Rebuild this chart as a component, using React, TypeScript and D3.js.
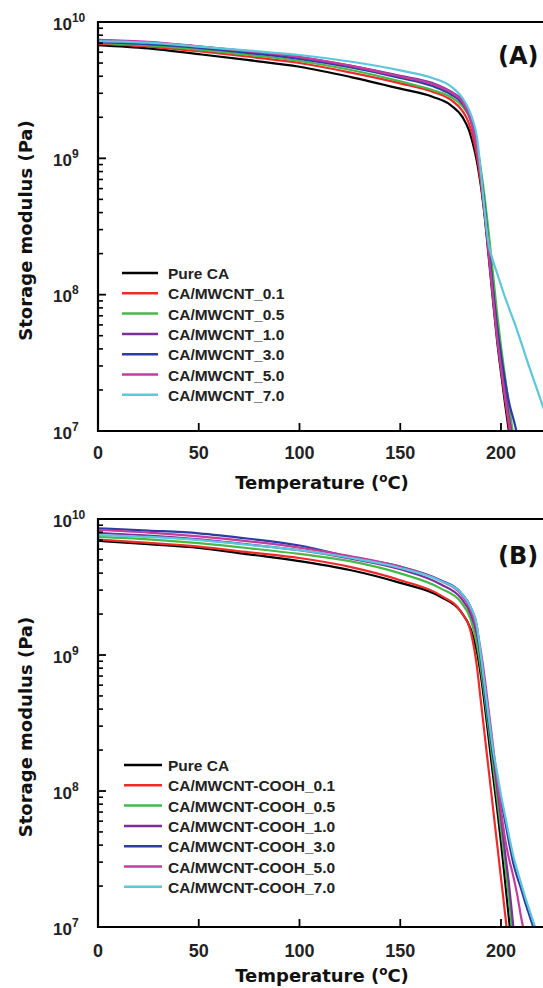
import React from 'react';
import * as d3 from 'd3';

// ---------- DATA (log10 of storage modulus in Pa) ----------
const TEMP_A = [0, 25, 50, 75, 100, 125, 150, 166, 175, 181, 184, 186, 188, 190, 192, 194, 196, 198, 200, 202, 204, 207, 210, 214, 218, 222];
const A_pureCA = [9.831, 9.806, 9.764, 9.72, 9.672, 9.598, 9.511, 9.452, 9.391, 9.30, 9.21, 9.11, 8.98, 8.80, 8.56, 8.26, 7.96, 7.67, 7.43, 7.20, 6.99, 6.70, 6.44, 6.1, 5.8, 5.5];
const A_01 = [9.839, 9.82, 9.786, 9.745, 9.699, 9.63, 9.55, 9.489, 9.43, 9.345, 9.26, 9.16, 9.02, 8.82, 8.58, 8.29, 7.99, 7.70, 7.46, 7.24, 7.03, 6.75, 6.49, 6.1, 5.8, 5.5];
const A_05 = [9.846, 9.828, 9.797, 9.758, 9.714, 9.65, 9.565, 9.501, 9.45, 9.38, 9.31, 9.23, 9.10, 8.92, 8.70, 8.44, 8.16, 7.87, 7.62, 7.40, 7.18, 6.88, 6.60, 6.2, 5.9, 5.6];
const A_10 = [9.868, 9.85, 9.82, 9.785, 9.743, 9.68, 9.605, 9.552, 9.49, 9.42, 9.33, 9.24, 9.09, 8.88, 8.61, 8.31, 8.02, 7.73, 7.50, 7.29, 7.10, 6.84, 6.60, 6.25, 5.95, 5.65];
const A_30 = [9.853, 9.838, 9.81, 9.772, 9.729, 9.668, 9.59, 9.53, 9.47, 9.40, 9.32, 9.23, 9.09, 8.89, 8.63, 8.34, 8.05, 7.78, 7.56, 7.37, 7.21, 7.04, 6.82, 6.45, 6.1, 5.8];
const A_50 = [9.870, 9.855, 9.822, 9.785, 9.743, 9.68, 9.6, 9.545, 9.485, 9.41, 9.32, 9.22, 9.07, 8.86, 8.59, 8.29, 7.99, 7.70, 7.47, 7.25, 7.06, 6.80, 6.56, 6.2, 5.9, 5.6];
const A_70 = [9.86, 9.848, 9.82, 9.79, 9.758, 9.71, 9.645, 9.589, 9.53, 9.44, 9.36, 9.28, 9.16, 8.90, 8.60, 8.36, 8.25, 8.16, 8.07, 7.98, 7.90, 7.78, 7.65, 7.47, 7.3, 7.13];

const TEMP_B = [0, 25, 50, 75, 100, 125, 150, 170, 180, 185, 188, 190, 192, 194, 196, 198, 200, 202, 204, 206, 208, 210, 212, 214, 216, 218, 222];
const B_pureCA = [9.840, 9.815, 9.788, 9.74, 9.69, 9.625, 9.53, 9.428, 9.32, 9.19, 9.03, 8.85, 8.62, 8.37, 8.12, 7.88, 7.62, 7.34, 7.05, 6.78, 6.52, 6.3, 6.1, 5.9, 5.7, 5.5, 5.1];
const B_01 = [9.848, 9.825, 9.797, 9.755, 9.713, 9.648, 9.55, 9.438, 9.32, 9.17, 8.92, 8.66, 8.40, 8.14, 7.88, 7.62, 7.36, 7.10, 6.84, 6.6, 6.36, 6.15, 5.95, 5.75, 5.55, 5.35, 5.0];
const B_05 = [9.868, 9.85, 9.822, 9.785, 9.743, 9.69, 9.6, 9.49, 9.39, 9.26, 9.08, 8.90, 8.68, 8.44, 8.20, 7.96, 7.72, 7.47, 7.2, 6.92, 6.65, 6.4, 6.2, 6.0, 5.8, 5.6, 5.2];
const B_10 = [9.897, 9.878, 9.85, 9.812, 9.77, 9.71, 9.63, 9.52, 9.42, 9.30, 9.15, 8.98, 8.76, 8.52, 8.28, 8.04, 7.80, 7.55, 7.31, 7.02, 6.75, 6.5, 6.3, 6.1, 5.9, 5.7, 5.3];
const B_30 = [9.932, 9.915, 9.895, 9.855, 9.805, 9.722, 9.65, 9.55, 9.46, 9.35, 9.21, 8.97, 8.72, 8.49, 8.27, 8.10, 7.93, 7.78, 7.62, 7.475, 7.37, 7.28, 7.18, 7.09, 7.0, 6.92, 6.77];
const B_50 = [9.919, 9.9, 9.872, 9.835, 9.79, 9.728, 9.648, 9.545, 9.45, 9.33, 9.19, 9.03, 8.82, 8.58, 8.34, 8.09, 7.86, 7.65, 7.50, 7.38, 7.24, 7.07, 6.93, 6.8, 6.67, 6.55, 6.3];
const B_70 = [9.882, 9.868, 9.845, 9.81, 9.77, 9.715, 9.64, 9.545, 9.46, 9.35, 9.22, 9.0, 8.76, 8.53, 8.31, 8.14, 7.97, 7.82, 7.67, 7.53, 7.42, 7.32, 7.22, 7.13, 7.04, 6.96, 6.8];

const LABELS_A = ['Pure CA', 'CA/MWCNT_0.1', 'CA/MWCNT_0.5', 'CA/MWCNT_1.0', 'CA/MWCNT_3.0', 'CA/MWCNT_5.0', 'CA/MWCNT_7.0'];
const LABELS_B = ['Pure CA', 'CA/MWCNT-COOH_0.1', 'CA/MWCNT-COOH_0.5', 'CA/MWCNT-COOH_1.0', 'CA/MWCNT-COOH_3.0', 'CA/MWCNT-COOH_5.0', 'CA/MWCNT-COOH_7.0'];
const COLORS = ['#000000', '#ee2a2a', '#46b946', '#7b2f9c', '#2c3ca2', '#c43c9f', '#5cc7db'];
const X_TICKS = [0, 50, 100, 150, 200];
const Y_DECADES = [7, 8, 9, 10];

const SERIES_A = [A_pureCA, A_01, A_05, A_10, A_30, A_50, A_70];
const SERIES_B = [B_pureCA, B_01, B_05, B_10, B_30, B_50, B_70];

const W = 543;
const H = 988;
const LEFT = 98;
const RIGHT = 543;
const X200 = 501;

type PanelProps = {
  top: number;
  bottom: number;
  temps: number[];
  series: number[][];
  labels: string[];
  tag: string;
  tagY: number;
  legendX1: number;
  legendX2: number;
  legendY0: number;
  tickLabelY: number;
  titleY: number;
  id: string;
};

function Panel(p: PanelProps) {
  const x = d3.scaleLinear().domain([0, 200]).range([LEFT, X200]);
  const y = d3.scaleLog().domain([1e7, 1e10]).range([p.bottom, p.top]);
  const line = d3
    .line<[number, number]>()
    .x((d) => x(d[0]))
    .y((d) => y(Math.pow(10, d[1])))
    .curve(d3.curveMonotoneX);
  const minor: number[] = [];
  for (let d = 7; d < 10; d++) for (let k = 2; k <= 9; k++) minor.push(k * Math.pow(10, d));
  const font = "'Liberation Sans', Arial, sans-serif";
  const font2 = "'DejaVu Sans', Verdana, sans-serif";
  return (
    <g>
      <defs>
        <clipPath id={p.id}>
          <rect x={LEFT} y={p.top} width={RIGHT - LEFT + 5} height={p.bottom - p.top} />
        </clipPath>
      </defs>
      <g clipPath={`url(#${p.id})`}>
        {p.series.map((s, i) => (
          <path
            key={i}
            d={line(p.temps.map((t, j) => [t, s[j]] as [number, number])) || ''}
            fill="none"
            stroke={COLORS[i]}
            strokeWidth={2.2}
          />
        ))}
      </g>
      {/* frame */}
      <line x1={LEFT} x2={RIGHT + 2} y1={p.top} y2={p.top} stroke="#000" strokeWidth={2.2} />
      <line x1={LEFT} x2={LEFT} y1={p.top - 1} y2={p.bottom + 1} stroke="#000" strokeWidth={2.2} />
      <line x1={LEFT - 1} x2={RIGHT + 2} y1={p.bottom} y2={p.bottom} stroke="#000" strokeWidth={2.2} />
      {/* y minor ticks */}
      {minor.map((v, i) => (
        <line key={i} x1={LEFT} x2={LEFT + 5} y1={y(v)} y2={y(v)} stroke="#000" strokeWidth={1.6} />
      ))}
      {Y_DECADES.map((d) => (
        <g key={d}>
          <line x1={LEFT} x2={LEFT + 8} y1={y(Math.pow(10, d))} y2={y(Math.pow(10, d))} stroke="#000" strokeWidth={1.8} />
          <text x={53} y={y(Math.pow(10, d)) + 7.5} fontFamily={font} fontWeight="bold" fontSize={17} fill="#222">
            10
            <tspan fontSize={12} dy={-8}>{d}</tspan>
          </text>
        </g>
      ))}
      {/* x ticks */}
      {X_TICKS.map((t) => (
        <g key={t}>
          {t > 0 && <line x1={x(t)} x2={x(t)} y1={p.bottom} y2={p.bottom - 8} stroke="#000" strokeWidth={1.8} />}
          <text x={x(t)} y={p.tickLabelY} textAnchor="middle" fontFamily={font} fontWeight="bold" fontSize={18} fill="#222">
            {t}
          </text>
        </g>
      ))}
      <text x={322} y={p.titleY} textAnchor="middle" fontFamily={font2} fontWeight="bold" fontSize={18} fill="#111">
        Temperature (<tspan fontSize={12} dy={-7}>o</tspan>
        <tspan dy={7}>C)</tspan>
      </text>
      <text
        transform={`translate(32, ${(p.top + p.bottom) / 2 + 4}) rotate(-90)`}
        textAnchor="middle"
        fontFamily={font2}
        fontWeight="bold"
        fontSize={18}
        fill="#111"
      >
        Storage modulus (Pa)
      </text>
      <text x={498} y={p.tagY} fontFamily={font2} fontWeight="bold" fontSize={24} fill="#111">
        {p.tag}
      </text>
      {/* legend */}
      {p.labels.map((lab, i) => {
        const yy = p.legendY0 + i * 20.3;
        return (
          <g key={lab}>
            <line x1={p.legendX1} x2={p.legendX2} y1={yy} y2={yy} stroke={COLORS[i]} strokeWidth={2.5} />
            <text x={168} y={yy + 6} fontFamily={font} fontWeight="bold" fontSize={15.5} fill="#222">
              {lab}
            </text>
          </g>
        );
      })}
    </g>
  );
}

export default function App() {
  return (
    <svg
      width={W}
      height={H}
      viewBox={`0 0 ${W} ${H}`}
      style={{ position: 'absolute', left: 0, top: 0, background: '#fff' }}
    >
      <rect x={0} y={0} width={W} height={H} fill="#fff" />
      <Panel
        id="clipA"
        top={22}
        bottom={431}
        temps={TEMP_A}
        series={SERIES_A}
        labels={LABELS_A}
        tag="(A)"
        tagY={64}
        legendX1={122}
        legendX2={158}
        legendY0={273}
        tickLabelY={459}
        titleY={489}
      />
      <Panel
        id="clipB"
        top={519}
        bottom={927}
        temps={TEMP_B}
        series={SERIES_B}
        labels={LABELS_B}
        tag="(B)"
        tagY={564}
        legendX1={124}
        legendX2={162}
        legendY0={765}
        tickLabelY={957}
        titleY={982}
      />
    </svg>
  );
}
